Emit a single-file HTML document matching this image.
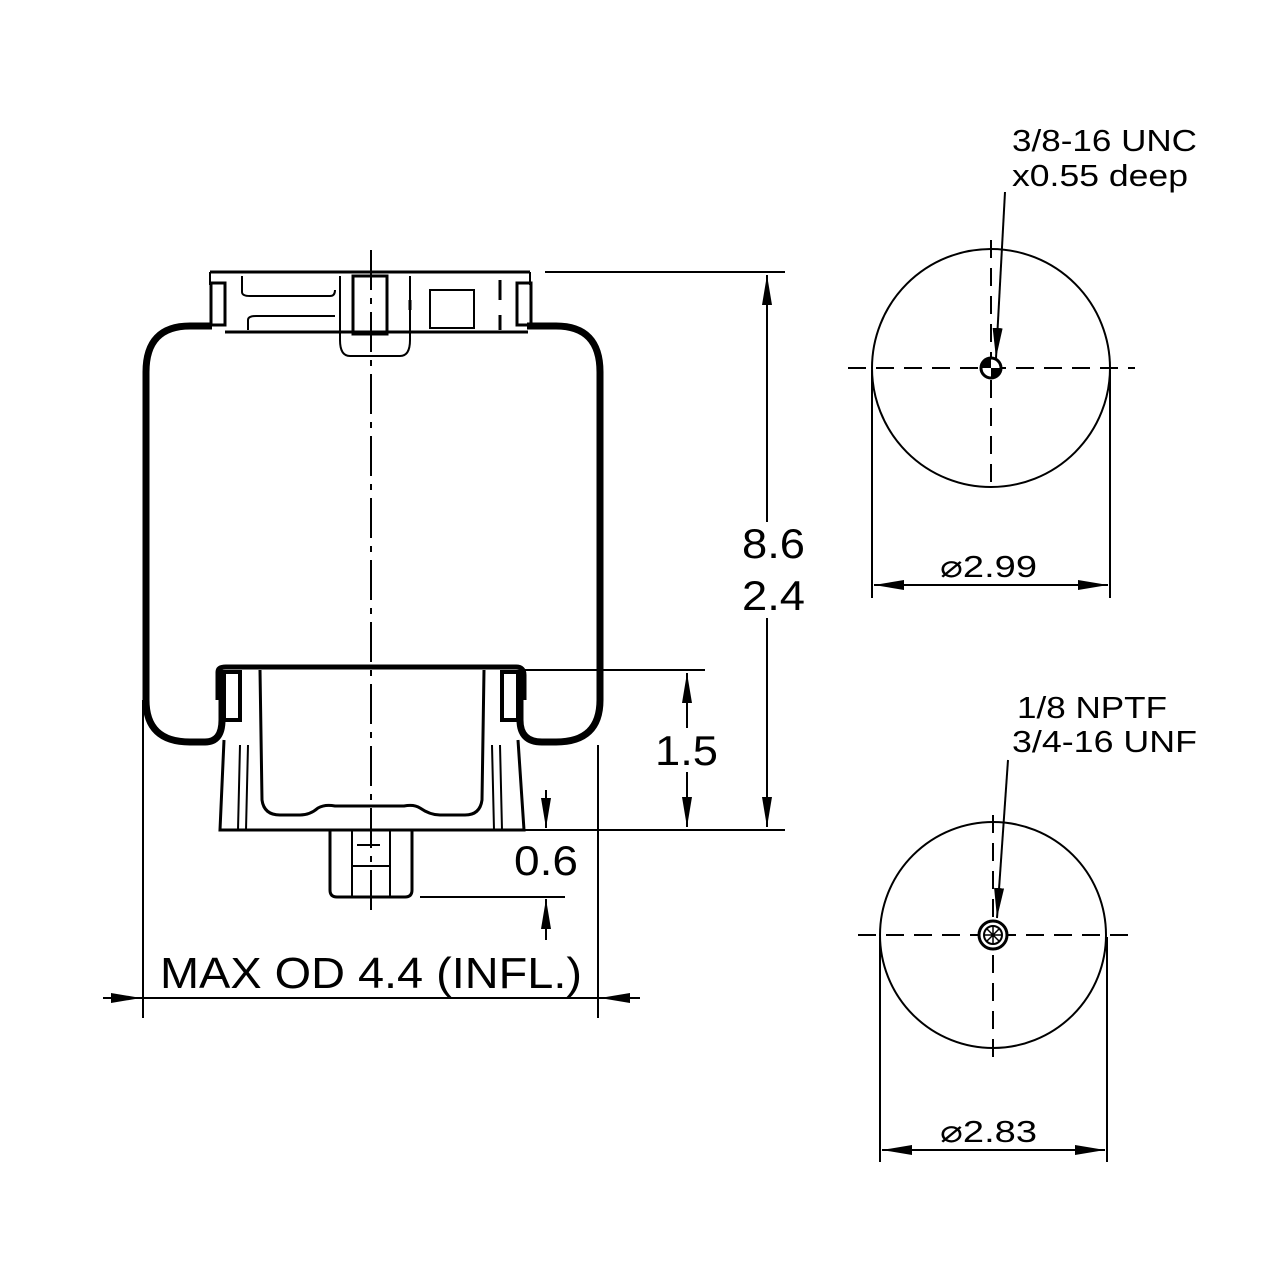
<!DOCTYPE html>
<html><head><style>body{margin:0;background:#fff}svg{display:block}text{font-family:"Liberation Sans",sans-serif;fill:#000}</style></head><body>
<svg width="1280" height="1280" viewBox="0 0 1280 1280" xmlns="http://www.w3.org/2000/svg">
<defs>
<marker id="a" viewBox="0 0 30 10" refX="30" refY="5" markerWidth="30" markerHeight="10" markerUnits="userSpaceOnUse" orient="auto-start-reverse"><path d="M0,0 L30,5 L0,10z" fill="#000"/></marker>
</defs>
<g fill="none" stroke="#000">
<!-- bellows -->
<path d="M212,326 L190,326 Q146,326 146,372 L146,700 Q146,742 190,742 L205,742 Q222,742 222,720 L222,670" stroke-width="7"/>
<path d="M527,326 L556,326 Q600,326 600,372 L600,700 Q600,742 556,742 L542,742 Q520,742 520,720 L520,670" stroke-width="7"/>
<!-- top bead plate -->
<path d="M210,272 L530,272" stroke-width="3"/>
<path d="M210,272 L210,285 M530,272 L530,285" stroke-width="2"/>
<rect x="211" y="283" width="14" height="42" stroke-width="3"/>
<rect x="517" y="283" width="14" height="42" stroke-width="3"/>
<path d="M225,332 L528,332" stroke-width="3"/>
<path d="M242,276 L242,292 Q242,296 250,296 L330,296 Q335,296 335,290" stroke-width="2"/>
<path d="M248,330 L248,320 Q248,316 256,316 L335,316" stroke-width="2"/>
<path d="M340,276 L340,340 Q340,356 350,356 L400,356 Q410,356 410,340 L410,276" stroke-width="2"/>
<rect x="353" y="276" width="34" height="58" stroke-width="3"/>
<path d="M410,300 L410,310 M500,280 L500,300 M500,315 L500,330" stroke-width="3"/>
<rect x="430" y="290" width="44" height="38" stroke-width="2"/>
<!-- piston -->
<path d="M218,700 L218,672 Q218,667 226,667 L516,667 Q524,667 524,675 L524,700" stroke-width="5"/>
<path d="M224,672 L240,672 L240,720 L224,720z M502,672 L518,672 L518,720 L502,720z" stroke-width="4"/>
<path d="M224,740 L220,830 L524,830 L518,740" stroke-width="3"/>
<path d="M260,670 L262,800 Q264,815 280,815 L300,815 Q310,815 318,808 Q325,804 335,806 L404,806 Q414,804 420,808 Q430,815 440,815 L465,815 Q480,815 482,800 L484,670" stroke-width="3"/>
<path d="M240,745 L238,830 M248,745 L246,830 M500,745 L502,830 M492,745 L494,830" stroke-width="2"/>
<path d="M330,830 L330,890 Q330,897 337,897 L405,897 Q412,897 412,890 L412,830" stroke-width="3"/>
<path d="M352,830 L352,897 M390,830 L390,897 M352,866 L390,866 M357,845 L380,845" stroke-width="2"/>
<!-- center line -->
<path d="M371,250 L371,910" stroke-width="2" stroke-dasharray="40,8,6,8"/>
<!-- dims -->
<path d="M545,272 L785,272 M522,670 L705,670 M524,830 L785,830 M420,897 L565,897" stroke-width="2"/>
<path d="M767,275 L767,827" stroke-width="2" marker-start="url(#a)" marker-end="url(#a)"/>
<path d="M687,673 L687,827" stroke-width="2" marker-start="url(#a)" marker-end="url(#a)"/>
<path d="M546,790 L546,828" stroke-width="2" marker-end="url(#a)"/>
<path d="M546,940 L546,899" stroke-width="2" marker-end="url(#a)"/>
<path d="M143,700 L143,1018 M598,745 L598,1018" stroke-width="2"/>
<path d="M103,998 L141,998" stroke-width="2" marker-end="url(#a)"/>
<path d="M640,998 L600,998" stroke-width="2" marker-end="url(#a)"/>
<path d="M141,998 L600,998" stroke-width="2"/>
<!-- top circle -->
<circle cx="991" cy="368" r="119" stroke-width="2"/>
<path d="M848,368 L1135,368 M991,240 L991,490" stroke-width="2" stroke-dasharray="18,10"/>
<circle cx="991" cy="368" r="10" stroke-width="3" fill="#fff"/>
<path d="M991,368 L991,358 A10,10 0 0 0 981,368z M991,368 L1001,368 A10,10 0 0 1 991,378z" fill="#000" stroke="none"/>
<path d="M872,370 L872,598 M1110,370 L1110,598" stroke-width="2"/>
<path d="M874,585 L1108,585" stroke-width="2" marker-start="url(#a)" marker-end="url(#a)"/>
<path d="M1005,192 L996,358" stroke-width="2" marker-end="url(#a)"/>
<!-- bottom circle -->
<circle cx="993" cy="935" r="113" stroke-width="2"/>
<path d="M858,935 L1135,935 M993,815 L993,1060" stroke-width="2" stroke-dasharray="18,10"/>
<circle cx="993" cy="935" r="14" stroke-width="3" fill="#fff"/>
<circle cx="993" cy="935" r="9" stroke-width="2"/>
<path d="M986,928 L1000,942 M1000,928 L986,942 M993,926 L993,944 M984,935 L1002,935" stroke-width="1.5"/>
<path d="M880,937 L880,1162 M1107,937 L1107,1162" stroke-width="2"/>
<path d="M882,1150 L1105,1150" stroke-width="2" marker-start="url(#a)" marker-end="url(#a)"/>
<path d="M1008,760 L997,918" stroke-width="2" marker-end="url(#a)"/>
</g>
<g fill="#fff">
<rect x="738" y="522" width="72" height="96"/>
<rect x="652" y="728" width="70" height="44"/>
</g>
<g font-size="42">
<text x="742" y="558" textLength="63" lengthAdjust="spacingAndGlyphs">8.6</text>
<text x="742" y="610" textLength="63" lengthAdjust="spacingAndGlyphs">2.4</text>
<text x="655" y="765" textLength="63" lengthAdjust="spacingAndGlyphs">1.5</text>
<text x="514" y="875" textLength="64" lengthAdjust="spacingAndGlyphs">0.6</text>
<text x="160" y="988" font-size="44" textLength="422" lengthAdjust="spacingAndGlyphs">MAX OD 4.4 (INFL.)</text>
</g>
<g font-size="31">
<text x="1012" y="151" textLength="185" lengthAdjust="spacingAndGlyphs">3/8-16 UNC</text>
<text x="1012" y="186" textLength="176" lengthAdjust="spacingAndGlyphs">x0.55 deep</text>
<text x="1017" y="718" textLength="150" lengthAdjust="spacingAndGlyphs">1/8 NPTF</text>
<text x="1012" y="752" textLength="185" lengthAdjust="spacingAndGlyphs">3/4-16 UNF</text>
<text x="940" y="577" textLength="97" lengthAdjust="spacingAndGlyphs">⌀2.99</text>
<text x="940" y="1142" textLength="97" lengthAdjust="spacingAndGlyphs">⌀2.83</text>
</g>
</svg>
</body></html>
